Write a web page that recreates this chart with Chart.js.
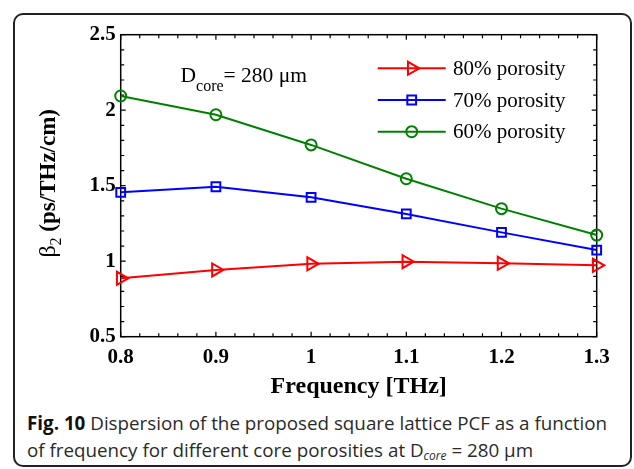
<!DOCTYPE html>
<html>
<head>
<meta charset="utf-8">
<script src="https://cdn.jsdelivr.net/npm/chart.js@4"></script>
<style>
    html, body { margin: 0; padding: 0; background: #fff; }
    body { width: 634px; height: 469px; position: relative; overflow: hidden; }
    .frame {
        position: absolute; left: 13px; top: 13px; width: 619px; height: 454px;
        box-sizing: border-box; border: 2px solid #222; border-radius: 10px;
    }
    .chart-box { position: absolute; left: 0; top: 0; width: 634px; height: 405px; }
    .caption {
        position: absolute; left: 27px; top: 410px; white-space: nowrap;
        font-family: "Open Sans", sans-serif; font-size: 18.8px; line-height: 27px; color: #2a2a2a;
    }
    .caption b { color: #111; }
    .caption sub { font-size: 12px; vertical-align: -3px; }
</style>
</head>
<body>
<div class="frame"></div>
<div class="chart-box"><canvas id="dispersionChart"></canvas></div>
<div class="caption"><b>Fig. 10</b> Dispersion of the proposed square lattice PCF as a function<br>of frequency for different core porosities at D<sub><i>core</i></sub> = 280 μm</div>

<script>
// Data
const frequencies = [0.8, 0.9, 1.0, 1.1, 1.2, 1.3];
const porosity80 = [0.887, 0.942, 0.983, 0.997, 0.986, 0.973];
const porosity70 = [1.456, 1.493, 1.423, 1.313, 1.191, 1.074];
const porosity60 = [2.094, 1.970, 1.770, 1.546, 1.348, 1.173];
const seriesLabels = ['80% porosity', '70% porosity', '60% porosity'];
const xTickLabels = ['0.8', '0.9', '1', '1.1', '1.2', '1.3'];
const yTickValues = [0.5, 1, 1.5, 2, 2.5];
const yTickLabels = ['0.5', '1', '1.5', '2', '2.5'];

const serif = '"Liberation Serif", "Times New Roman", serif';

function toPoints(values) {
    return frequencies.map((f, i) => ({ x: f, y: values[i] }));
}

function makeDataset(label, values, color, style, radius, rotation) {
    return {
        label: label,
        data: toPoints(values),
        borderColor: color,
        borderWidth: 2,
        pointStyle: style,
        pointRadius: radius,
        pointRotation: rotation,
        pointBorderColor: color,
        pointBackgroundColor: 'rgba(0,0,0,0)',
        pointBorderWidth: 2,
        tension: 0,
        clip: false
    };
}

const datasets = [
    makeDataset(seriesLabels[2], porosity60, '#008000', 'circle', 5.5, 0),
    makeDataset(seriesLabels[1], porosity70, '#0000ff', 'rect', 6.2, 0),
    makeDataset(seriesLabels[0], porosity80, '#ff0000', 'triangle', 7.5, 90)
];

// Box with inward major/minor ticks on all four sides
const boxTicks = {
    id: 'boxTicks',
    beforeDatasetsDraw(chart) {
        const { ctx, chartArea: a, scales: { x, y } } = chart;
        ctx.save();
        ctx.strokeStyle = '#000';
        ctx.lineWidth = 1.5;
        ctx.strokeRect(a.left, a.top, a.right - a.left, a.bottom - a.top);
        ctx.lineWidth = 1.2;
        ctx.beginPath();
        for (let i = 0; i <= 25; i++) {
            const px = x.getPixelForValue(x.min + i * 0.02);
            const len = i % 5 === 0 ? 5 : 3.5;
            ctx.moveTo(px, a.bottom); ctx.lineTo(px, a.bottom - len);
            ctx.moveTo(px, a.top); ctx.lineTo(px, a.top + len);
        }
        for (let i = 0; i <= 20; i++) {
            const py = y.getPixelForValue(y.min + i * 0.1);
            const len = i % 5 === 0 ? 5 : 3.5;
            ctx.moveTo(a.left, py); ctx.lineTo(a.left + len, py);
            ctx.moveTo(a.right, py); ctx.lineTo(a.right - len, py);
        }
        ctx.stroke();
        ctx.restore();
    }
};

// Legend, annotation and y-axis title
const decorations = {
    id: 'decorations',
    afterDatasetsDraw(chart) {
        const { ctx, chartArea: a } = chart;
        ctx.save();

        // legend (80%, 70%, 60%)
        const order = [2, 1, 0];
        order.forEach((di, row) => {
            const ds = chart.data.datasets[di];
            const yy = 68.3 + row * 31.7;
            ctx.strokeStyle = ds.borderColor;
            ctx.lineWidth = 2;
            ctx.beginPath();
            ctx.moveTo(377.7, yy);
            ctx.lineTo(445.7, yy);
            ctx.stroke();
            ctx.fillStyle = 'rgba(0,0,0,0)';
            Chart.helpers.drawPoint(ctx, {
                pointStyle: ds.pointStyle,
                rotation: ds.pointRotation,
                radius: ds.pointRadius,
                borderWidth: 2
            }, 411.7, yy);
            ctx.fillStyle = '#000';
            ctx.font = '21px ' + serif;
            ctx.textBaseline = 'middle';
            ctx.textAlign = 'left';
            ctx.fillText(ds.label, 453, yy + 1);
        });

        // D_core annotation
        ctx.fillStyle = '#000';
        ctx.textBaseline = 'alphabetic';
        ctx.font = '21.5px ' + serif;
        ctx.fillText('D', 180.5, 81.5);
        let cx = 180.5 + ctx.measureText('D').width;
        ctx.font = '16px ' + serif;
        ctx.fillText('core', cx, 90.5);
        cx += ctx.measureText('core').width;
        ctx.font = '21.5px ' + serif;
        ctx.fillText('= 280 \u03bcm', cx, 81.5);

        // y-axis title: beta_2 (ps/THz/cm)
        const fBeta = '24px ' + serif;
        const fSub = '16px ' + serif;
        const fUnit = 'bold 23px ' + serif;
        ctx.font = fBeta; const wB = ctx.measureText('\u03b2').width;
        ctx.font = fSub; const w2 = ctx.measureText('2').width;
        ctx.font = fUnit; const wU = ctx.measureText(' (ps/THz/cm)').width;
        const total = wB + w2 + wU;
        const centerY = 183.3;
        ctx.translate(55, centerY + total / 2);
        ctx.rotate(-Math.PI / 2);
        ctx.font = fBeta; ctx.fillText('\u03b2', 0, 0);
        ctx.font = fSub; ctx.fillText('2', wB, 6);
        ctx.font = fUnit; ctx.fillText(' (ps/THz/cm)', wB + w2, 0);

        ctx.restore();
    }
};

new Chart(document.getElementById('dispersionChart'), {
    type: 'line',
    data: { datasets: datasets },
    options: {
        responsive: true,
        maintainAspectRatio: false,
        animation: false,
        layout: { padding: { left: 14, top: 34.7, right: 37.3, bottom: 0 } },
        plugins: { legend: { display: false }, tooltip: { enabled: false } },
        scales: {
            x: {
                type: 'linear',
                min: 0.8,
                max: 1.3,
                afterBuildTicks: (scale) => { scale.ticks = frequencies.map(v => ({ value: v })); },
                afterFit: (scale) => { scale.height = 405 - 336.7; },
                grid: { display: false, drawTicks: false },
                border: { display: false },
                ticks: {
                    padding: 8,
                    color: '#000',
                    font: { family: serif, size: 21, weight: 'bold' },
                    callback: (v, i) => xTickLabels[i]
                },
                title: {
                    display: true,
                    text: 'Frequency [THz]',
                    color: '#000',
                    font: { family: serif, size: 24, weight: 'bold' },
                    padding: { top: 0, bottom: 4 }
                }
            },
            y: {
                type: 'linear',
                min: 0.5,
                max: 2.5,
                afterBuildTicks: (scale) => { scale.ticks = yTickValues.map(v => ({ value: v })); },
                afterFit: (scale) => { scale.width = 120.7 - 14; },
                grid: { display: false, drawTicks: false },
                border: { display: false },
                ticks: {
                    padding: 5,
                    color: '#000',
                    font: { family: serif, size: 21, weight: 'bold' },
                    callback: (v, i) => yTickLabels[i]
                }
            }
        }
    },
    plugins: [boxTicks, decorations]
});
</script>
</body>
</html>
